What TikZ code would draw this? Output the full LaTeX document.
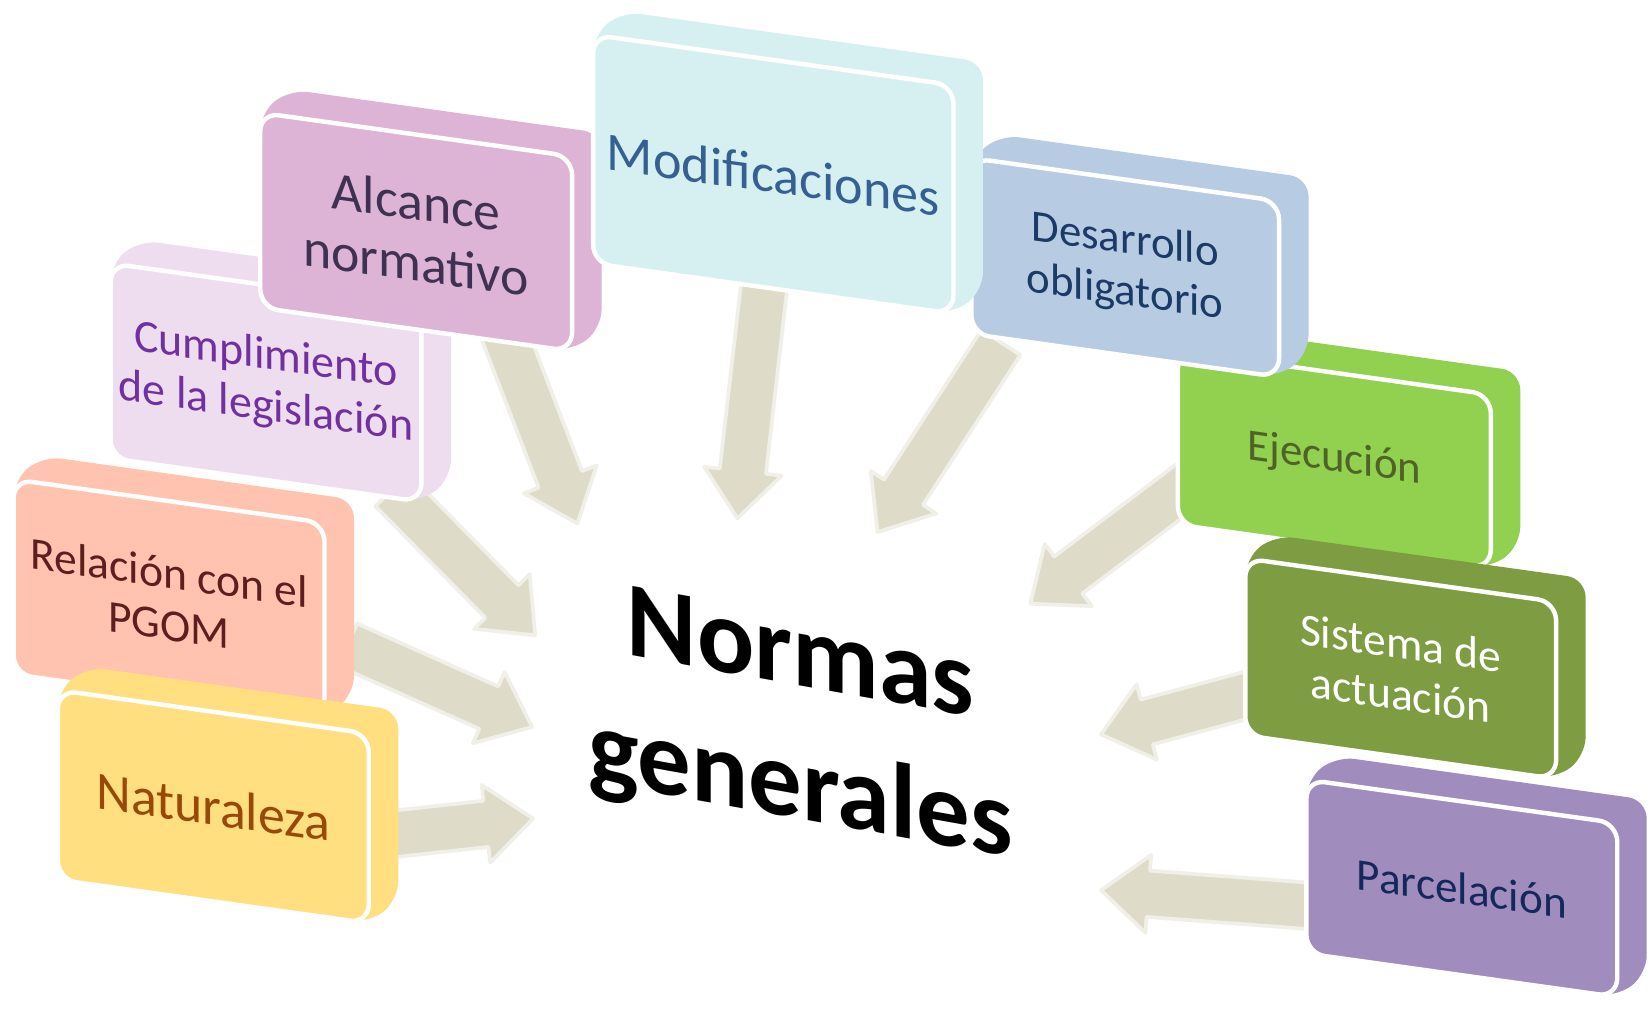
\documentclass[tikz,border=0pt]{standalone}
\usepackage{fontspec}
\setmainfont{Carlito}
\usetikzlibrary{calc}
\definecolor{natfill}{HTML}{FFDF80}\definecolor{nattext}{HTML}{984807}
\definecolor{relfill}{HTML}{FFC3AF}\definecolor{reltext}{HTML}{5C1F1F}
\definecolor{cumfill}{HTML}{EEDDEE}\definecolor{cumtext}{HTML}{7030A0}
\definecolor{alcfill}{HTML}{DDB4D5}\definecolor{alctext}{HTML}{3F3151}
\definecolor{modfill}{HTML}{D6F0F1}\definecolor{modtext}{HTML}{376092}
\definecolor{desfill}{HTML}{B7CBE3}\definecolor{destext}{HTML}{1B3A66}
\definecolor{ejefill}{HTML}{92D050}\definecolor{ejetext}{HTML}{4F6228}
\definecolor{sisfill}{HTML}{7E9D42}\definecolor{sistext}{HTML}{FFFFFF}
\definecolor{parfill}{HTML}{A18DBD}\definecolor{partext}{HTML}{14285C}
\definecolor{arrfill}{HTML}{DEDCC8}\definecolor{arrline}{HTML}{F0EFE8}
\tikzset{
  arrowsty/.style={fill=arrfill, draw=arrline, line width=1pt, line join=round},
  frontsty/.style={draw=white, line width=1.2pt, rounded corners=5pt},
  backsty/.style={rounded corners=5pt},
  labelsty/.style={transform shape, align=center, inner sep=0pt}
}
% name, L, T, w, h, colour prefix, font, text
\newcommand\nbox[8]{%
  \begin{scope}[shift={(#2,#3)}, yslant=-0.14]
    \fill[backsty, #6fill] (0,#5) -- (0,0) -- (28,-26) -- ({28+#4},-26) -- ({28+#4},{#5-26}) -- (#4,#5) -- cycle;
    \draw[frontsty, fill=#6fill] (0,0) rectangle (#4,#5);
    \node[labelsty, text=#6text, font=#7] (#1) at ({#4/2},{#5/2}) {#8};
  \end{scope}}
% tail, tip
\newcommand\barrow[2]{%
  \coordinate (tmpN) at ($(#2)!0.45cm!(#1)$);
  \filldraw[arrowsty] ($(#1)!0.22cm!90:(#2)$) -- ($(tmpN)!0.22cm!-90:(#1)$) -- ($(tmpN)!0.37cm!-90:(#1)$) -- (#2) -- ($(tmpN)!0.37cm!90:(#1)$) -- ($(tmpN)!0.22cm!90:(#1)$) -- ($(#1)!0.22cm!-90:(#2)$) -- cycle;}
\begin{document}
\begin{tikzpicture}[x=0.01cm, y=-0.01cm]
\fill[white] (0,0) rectangle (1568,958);
\useasboundingbox (0,0) rectangle (1568,958);
% arrow ends
\coordinate (aNat) at (370,792);  \coordinate (bNat) at (506,777);
\coordinate (aRel) at (330,612);  \coordinate (bRel) at (505,690);
\coordinate (aCum) at (372,465);  \coordinate (bCum) at (508,603);
\coordinate (aAlc) at (478,315);  \coordinate (bAlc) at (548,497);
\coordinate (aMod) at (726,265);  \coordinate (bMod) at (700,492);
\coordinate (aDes) at (950,325);  \coordinate (bDes) at (833,505);
\coordinate (aEje) at (1130,458); \coordinate (bEje) at (978,573);
\coordinate (aSis) at (1190,658); \coordinate (bSis) at (1045,697);
\coordinate (aPar) at (1245,860); \coordinate (bPar) at (1045,845);
\barrow{aNat}{bNat}
\barrow{aRel}{bRel}
\barrow{aCum}{bCum}
\barrow{aAlc}{bAlc}
\barrow{aMod}{bMod}
\barrow{aDes}{bDes}
\barrow{aEje}{bEje}
\barrow{aSis}{bSis}
\barrow{aPar}{bPar}
% boxes
\nbox{cum}{105}{250}{295}{185}{cum}{\fontsize{12.4}{14}\selectfont}{Cumplimiento\\de la legislación}
\nbox{rel}{13}{455}{295}{185}{rel}{\fontsize{12.3}{14}\selectfont}{Relación con el\\PGOM}
\nbox{nat}{55}{655}{295}{180}{nat}{\fontsize{14.5}{16}\selectfont}{Naturaleza}
\nbox{alc}{247}{107}{296}{185}{alc}{\fontsize{14.5}{16.5}\selectfont}{Alcance\\normativo}
\nbox{eje}{1118}{333}{297}{165}{eje}{\fontsize{12.1}{14}\selectfont}{Ejecución}
\nbox{sis}{1182}{530}{295}{168}{sis}{\fontsize{12.3}{14}\selectfont}{Sistema de\\actuación}
\nbox{par}{1240}{740}{295}{165}{par}{\fontsize{12.2}{14}\selectfont}{Parcelación}
\nbox{des}{922}{150}{292}{167}{des}{\fontsize{12.1}{14}\selectfont}{Desarrollo\\obligatorio}
\nbox{mod}{563}{33}{342}{217}{mod}{\fontsize{14.6}{16}\selectfont}{Modificaciones}
% centre
\begin{scope}[shift={(760,690)}, yslant=-0.18]
  \node[labelsty, font=\fontsize{28.8}{36}\selectfont\bfseries] (centre) at (0,0) {Normas\\generales};
\end{scope}
\end{tikzpicture}
\end{document}
